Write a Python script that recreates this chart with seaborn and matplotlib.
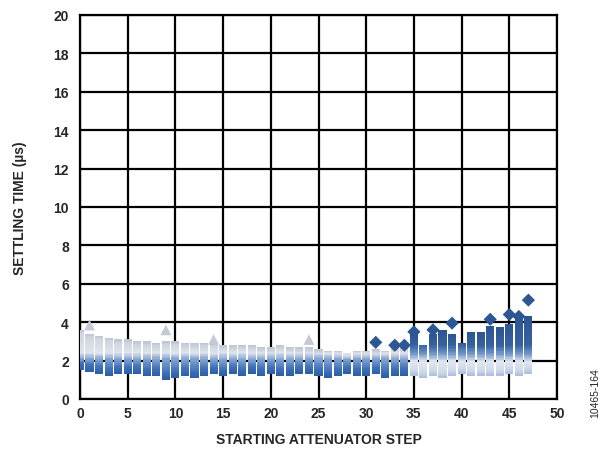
import numpy as np
import pandas as pd
import seaborn as sns
import matplotlib
matplotlib.use("Agg")
import matplotlib.pyplot as plt
from matplotlib.colors import to_rgb

# ---------------- data ----------------
steps = list(range(48))
upper = [3.6, 3.4, 3.3, 3.2, 3.1, 3.1, 3.0, 3.0, 2.9, 3.0, 3.0, 2.9, 2.9, 2.9, 2.9, 2.8,
         2.8, 2.8, 2.8, 2.7, 2.7, 2.8, 2.7, 2.7, 2.7, 2.6, 2.5, 2.5, 2.4, 2.5, 2.5, 2.6,
         2.5, 2.7, 2.7, 3.4, 2.8, 3.4, 3.6, 3.4, 2.9, 3.5, 3.5, 3.8, 3.75, 3.9, 4.3, 4.3]
lower = [1.5, 1.4, 1.3, 1.2, 1.3, 1.3, 1.3, 1.2, 1.2, 1.0, 1.1, 1.2, 1.1, 1.2, 1.3, 1.2,
         1.3, 1.2, 1.3, 1.2, 1.3, 1.2, 1.2, 1.3, 1.3, 1.2, 1.1, 1.2, 1.3, 1.2, 1.2, 1.3,
         1.1, 1.2, 1.2, 1.2, 1.1, 1.2, 1.1, 1.2, 1.3, 1.2, 1.2, 1.2, 1.2, 1.3, 1.2, 1.3]
blue_top_start = 35          # from this step on, the top of each column is dark blue

peak_step = [1, 9, 14, 24, 31, 33, 34, 35, 37, 39, 43, 45, 46, 47]
peak_val = [3.85, 3.6, 3.1, 3.1, 2.95, 2.8, 2.8, 3.5, 3.6, 3.95, 4.15, 4.4, 4.3, 5.15]
peak_kind = ["light", "light", "light", "light", "dark", "dark", "dark", "dark", "dark",
             "dark", "dark", "dark", "dark", "dark"]

x_ticks = list(range(0, 51, 5))
y_ticks = list(range(0, 21, 2))

# ---------------- styling ----------------
sns.set_style("white")
plt.rcParams["font.family"] = ["Liberation Sans", "DejaVu Sans"]
plt.rcParams["font.weight"] = "bold"


def lerp_stops(y, stops):
    ys = [s[0] for s in stops]
    cs = np.array([to_rgb(s[1]) for s in stops])
    return tuple(np.interp(y, ys, cs[:, i]) for i in range(3))


def column_color(step, y, lo, hi):
    if step < blue_top_start:
        stops = [(lo, "#2a5da5"), (lo + 0.35, "#3d70b7"), (2.1, "#86a6d3"),
                 (2.4, "#dfe4ec"), (hi - 0.2, "#d0d6e0"), (hi, "#bcc4d1")]
    else:
        stops = [(lo, "#a9bcdb"), (lo + 0.3, "#cfd9e9"), (1.95, "#e2e7ef"),
                 (2.35, "#7397cb"), (2.8, "#36629f"), (hi, "#2b5592")]
    stops = sorted(stops, key=lambda s: s[0])
    return lerp_stops(y, stops)


fig = plt.figure(figsize=(6.07, 4.56), dpi=100)
ax = fig.add_axes([80 / 607, 1 - 400 / 456, (557 - 80) / 607, (400 - 16) / 456])

K = 30
lo_arr = np.array(lower)
hi_arr = np.array(upper)
for k in range(K):
    b = lo_arr + (hi_arr - lo_arr) * k / K
    mid = b + (hi_arr - lo_arr) / K / 2
    cols = [column_color(s, m, l, u) for s, m, l, u in zip(steps, mid, lower, upper)]
    # each layer reaches the column top; the next layer covers its upper part
    layer = pd.DataFrame({"step": steps, "height": hi_arr - b})
    sns.barplot(data=layer, x="step", y="height", native_scale=True, errorbar=None,
                width=0.85, color="#000000", facecolor=cols, bottom=b,
                linewidth=0, edgecolor="none", ax=ax, zorder=3)

peaks = pd.DataFrame({"step": peak_step, "value": peak_val, "kind": peak_kind})
light = peaks[peaks["kind"] == "light"]
dark = peaks[peaks["kind"] == "dark"]
sns.scatterplot(data=light, x="step", y="value", marker="^", s=60, color="#c3cad6",
                edgecolor="none", ax=ax, zorder=4)
sns.scatterplot(data=dark, x="step", y="value", marker="D", s=45, color="#2c5694",
                edgecolor="none", ax=ax, zorder=4)

ax.set_xlim(0, 50)
ax.set_ylim(0, 20)
ax.set_xticks(x_ticks)
ax.set_yticks(y_ticks)
ax.set_xticklabels([str(t) for t in x_ticks], fontsize=10, fontweight="bold")
ax.set_yticklabels([str(t) for t in y_ticks], fontsize=10, fontweight="bold")
ax.grid(True, color="black", linewidth=1.6)
ax.set_axisbelow(True)
for sp in ax.spines.values():
    sp.set_color("black")
    sp.set_linewidth(1.6)
    sp.set_visible(True)
ax.tick_params(axis="x", length=0, pad=5)
ax.tick_params(axis="y", length=0, pad=8)
ax.set_xlabel("STARTING ATTENUATOR STEP", fontsize=10, fontweight="bold", labelpad=9)
ax.set_ylabel("SETTLING TIME (µs)", fontsize=10, fontweight="bold", labelpad=19)
fig.text(595 / 607, 1 - 393 / 456, "10465-164", rotation=90, fontsize=7.5,
         fontweight="normal", ha="center", va="center")

fig.savefig("out.png", dpi=100)
